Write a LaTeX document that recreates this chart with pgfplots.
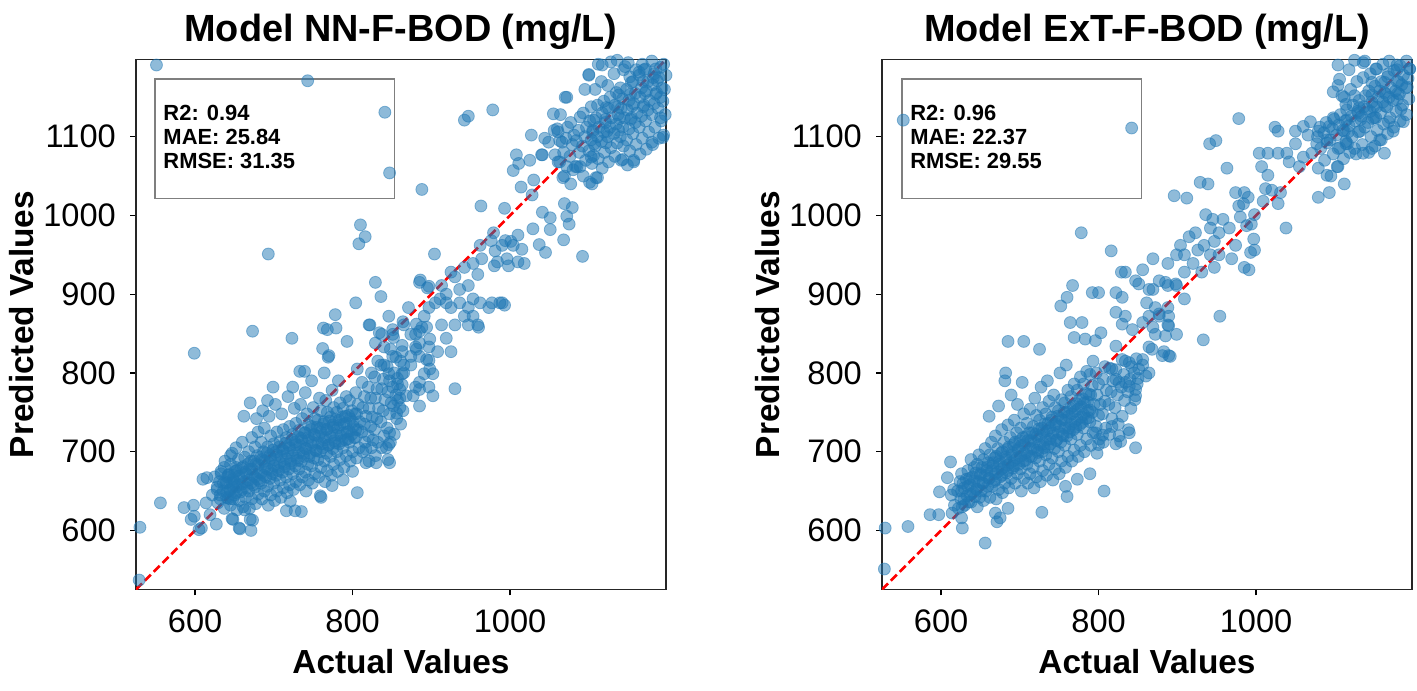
\documentclass[border=0pt]{standalone}
\usepackage{fontspec}
\setmainfont{Liberation Sans}
\usepackage{pgfplots}
\pgfplotsset{compat=1.18}
\definecolor{tabblue}{HTML}{1F77B4}
\pgfplotsset{
  base/.style={
    anchor=south west,
    width=530bp, height=530bp, scale only axis,
    xmin=525, xmax=1198, ymin=525, ymax=1198,
    xtick={600,800,1000}, ytick={600,700,800,900,1000,1100},
    tick pos=left, tick align=outside, major tick length=6bp,
    every tick/.style={black, line width=1.3bp},
    axis line style={black!85, line width=1.5bp},
    /pgf/number format/assume math mode=true,
    /pgf/number format/set thousands separator={},
    tick label style={font=\fontsize{32.7}{36}\selectfont},
    xticklabel style={anchor=north, inner sep=0pt, yshift=-14bp},
    yticklabel style={anchor=east, inner sep=0pt, xshift=-14bp},
    title style={at={(axis description cs:0.5,1.0219)}, anchor=base, inner sep=0pt, font=\bfseries\fontsize{38}{40}\selectfont},
    xlabel style={at={(axis description cs:0.5,-0.1594)}, anchor=base, inner sep=0pt, font=\bfseries\fontsize{33.5}{36}\selectfont},
    ylabel style={at={(axis description cs:-0.194,0.5)}, rotate=0, anchor=base, inner sep=0pt, font=\bfseries\fontsize{33.5}{36}\selectfont},
    xlabel={Actual Values}, ylabel={Predicted Values},
    clip=true,
  },
  pts/.style={only marks, mark=*, mark size=6bp, mark options={draw=tabblue, fill=tabblue, fill opacity=0.5, draw opacity=0.5, line width=0.8bp}},
  diag/.style={red, line width=2.6bp, dash pattern=on 8.5bp off 4bp},
}
\begin{document}
\begin{tikzpicture}
\useasboundingbox (0,0) rectangle (1417bp,691bp);
% ---------------- left: NN ----------------
\begin{axis}[base, at={(136bp,101.5bp)}, title={Model NN-F-BOD (mg/L)}]
\addplot[pts] coordinates {
(551,1191) (743,1171) (841,1131) (847,1054) (888,1033) (942,1121) (947,1126) (978,1134) (963,1012) (993,1009)
(810,988) (816,973) (808,964) (693,951) (904,951) (599,825) (673,853) (723,844) (733,802) (739,802)
(804,889) (829,915) (836,897) (886,918) (895,908) (930,780) (821,861) (778,874) (763,857) (779,857)
(793,840) (762,831) (770,822) (769,820) (768,855)
(530,604) (529,537) (556,635) (586,629) (598,632) (595,614) (599,618) (608,603) (605,601) (627,608)
(619,620) (610,665) (615,667) (614,635)
(647,615) (657,602) (671,600) (670,614) (663,626) (656,603) (673,613) (648,614)
(716,625) (727,625) (735,624) (721,637) (759,644) (760,642) (774,657) (788,664) (806,648) (800,675)
(817,686) (830,686) (847,686) (843,705) (846,709)
(622,645) (628,652) (632,640) (636,660) (640,648) (625,668) (633,675) (645,640) (648,655) (642,670) (650,662) (652,680) (638,688) (645,695)
(629,635) (632,645) (628,655) (631,662) (633,672)
(637,628) (640,642) (636,650) (639,660) (641,668) (637,680)
(645,632) (648,640) (644,652) (647,661) (649,670) (645,684) (647,698)
(653,626) (656,638) (652,648) (655,658) (657,666) (653,676) (655,690) (652,705)
(661,630) (664,642) (660,652) (663,662) (665,672) (661,681) (663,693) (660,712) (662,745)
(669,628) (672,640) (668,650) (671,660) (673,670) (669,678) (671,688) (668,700) (672,718) (670,762)
(677,634) (680,646) (676,655) (679,665) (681,674) (677,684) (679,695) (676,706) (680,725) (678,742)
(685,640) (688,650) (684,660) (687,670) (689,680) (685,690) (687,700) (684,712) (688,730) (686,752)
(693,632) (696,645) (692,656) (695,666) (697,676) (693,686) (695,695) (692,706) (696,720) (694,745) (692,765)
(701,638) (704,650) (700,660) (703,670) (705,680) (701,690) (703,700) (700,710) (704,725) (702,760) (699,782)
(709,642) (712,654) (708,664) (711,674) (713,684) (709,694) (711,703) (708,713) (712,728) (710,748)
(717,648) (720,658) (716,668) (719,678) (721,688) (717,698) (719,708) (716,718) (720,732) (718,770)
(725,652) (728,662) (724,672) (727,682) (729,692) (725,702) (727,712) (724,722) (728,736) (726,755) (724,782)
(733,658) (736,668) (732,678) (735,688) (737,698) (733,708) (735,717) (732,727) (736,742) (734,760)
(741,650) (744,664) (740,674) (743,684) (745,694) (741,704) (743,714) (740,724) (744,734) (742,748) (740,775)
(749,660) (752,672) (748,682) (751,692) (753,702) (749,712) (751,722) (748,732) (752,742) (750,756) (748,790)
(757,668) (760,680) (756,690) (759,700) (761,710) (757,720) (759,730) (756,740) (760,752) (758,768)
(765,662) (768,676) (764,688) (767,698) (769,708) (765,718) (767,728) (764,738) (768,750) (766,765) (764,800)
(773,670) (776,684) (772,694) (775,704) (777,714) (773,724) (775,734) (772,744) (776,756) (774,778)
(781,675) (784,690) (780,700) (783,710) (785,720) (781,730) (783,740) (780,750) (784,762) (782,790)
(789,680) (792,695) (788,705) (791,715) (793,725) (789,735) (791,745) (788,755) (792,770)
(797,688) (800,700) (796,712) (799,722) (801,732) (797,742) (799,752) (796,765)
(805,692) (808,705) (804,718) (807,728) (809,738) (805,748) (807,760) (804,775) (806,805)
(813,700) (816,712) (812,725) (815,735) (817,745) (813,756) (815,770) (812,788)
(821,688) (824,705) (820,720) (823,732) (825,744) (821,755) (823,768) (820,782) (824,800)
(829,695) (832,712) (828,728) (831,742) (833,755) (829,768) (831,780) (828,795) (832,815)
(837,705) (840,720) (836,738) (839,752) (841,766) (837,780) (839,792) (836,810)
(845,690) (848,712) (844,730) (847,748) (849,762) (845,776) (847,790) (844,808) (848,830)
(853,722) (856,742) (852,758) (855,772) (857,786) (853,800) (855,820) (852,845)
(861,735) (864,752) (860,768) (863,785) (865,800) (861,815) (863,835)
(642,641) (644,651) (640,661) (643,671)
(650,645) (652,655) (648,665) (651,675)
(658,649) (660,659) (656,669) (659,679)
(666,654) (668,664) (664,674) (667,684)
(674,658) (676,668) (672,678) (675,688)
(682,663) (684,673) (680,683) (683,693)
(690,668) (692,678) (688,688) (691,698)
(698,672) (700,682) (696,692) (699,702)
(706,676) (708,686) (704,696) (707,706)
(714,681) (716,691) (712,701) (715,711)
(722,685) (724,695) (720,705) (723,715)
(730,689) (732,699) (728,709) (731,719)
(738,694) (740,704) (736,714) (739,724)
(746,698) (748,708) (744,718) (747,728)
(754,701) (756,711) (752,721) (755,731)
(762,705) (764,715) (760,725) (763,735)
(770,709) (772,719) (768,729) (771,739)
(778,711) (780,721) (776,731) (779,741)
(786,714) (788,724) (784,734) (787,744)
(794,716) (796,726) (792,736) (795,746)
(802,718) (804,728) (800,738) (803,748)
(846,872) (851,849) (865,861) (880,849) (891,872) (897,883) (905,889) (911,894) (919,900) (925,883)
(936,889) (947,883) (942,872) (953,894) (962,889) (930,861) (919,844) (925,827) (908,827) (897,833)
(885,821) (874,810) (863,799) (880,782) (868,771) (857,765) (959,861) (947,911) (942,934) (953,939)
(959,925) (964,945) (962,962) (930,922) (913,911) (987,889) (973,883) (947,861) (960,858) (891,799)
(897,816) (902,799) (885,788) (897,782) (874,849) (871,883) (888,858) (913,861) (863,827) (851,821)
(840,833) (829,838) (837,849) (840,810) (846,799) (851,782) (860,779) (857,793) (865,810) (885,838)
(880,833) (874,821) (902,771) (953,872) (936,906) (925,928) (919,889)
(822,861) (834,851) (851,855) (864,865) (881,862) (894,858) (885,853) (898,843) (881,830) (894,817)
(898,805) (885,779) (877,771) (885,758) (860,756) (856,749) (847,724) (826,715) (817,703) (885,915) (897,910)
(1008,1077) (1011,1066) (1027,1102) (1044,1098) (1025,1070) (1040,1077) (1004,1057) (1014,1036) (1030,1045) (1028,1026)
(1041,1004) (1051,997) (1029,983) (1051,982) (1037,963) (1045,953) (1015,957) (1018,939) (1010,941) (996,945)
(998,936) (984,941) (981,955) (994,968) (1010,975) (1004,962) (990,962) (976,968) (980,936) (993,886)
(977,889) (990,889) (1068,969) (1075,989) (1072,999) (1079,1010) (1069,1015) (1092,948) (1055,1129) (1072,1150)
(1056,1108) (1061,1106) (1049,1093) (1066,1093) (1041,1077) (1057,1077) (1063,1068) (1067,1048) (1083,1062) (1089,1062)
(1103,1074) (1111,1048) (1104,1040) (979,978) (1001,967)
(1061,1068) (1063,1095) (1060,1110) (1064,1128)
(1069,1050) (1072,1062) (1068,1080) (1071,1098) (1073,1112) (1070,1150)
(1077,1040) (1080,1058) (1076,1075) (1079,1090) (1081,1102) (1077,1118)
(1085,1062) (1088,1080) (1084,1095) (1087,1108) (1089,1125)
(1093,1050) (1096,1070) (1092,1088) (1095,1100) (1097,1112) (1093,1130) (1095,1160)
(1101,1042) (1104,1066) (1100,1082) (1103,1096) (1105,1108) (1101,1120) (1103,1138) (1100,1178)
(1109,1048) (1112,1072) (1108,1088) (1111,1100) (1113,1112) (1109,1124) (1111,1140) (1108,1160) (1112,1192)
(1117,1060) (1120,1080) (1116,1094) (1119,1106) (1121,1118) (1117,1130) (1119,1145) (1116,1170)
(1125,1068) (1128,1086) (1124,1100) (1127,1112) (1129,1124) (1125,1136) (1127,1150) (1124,1165) (1128,1195)
(1133,1075) (1136,1092) (1132,1104) (1135,1116) (1137,1128) (1133,1140) (1135,1156) (1132,1180) (1136,1197)
(1141,1070) (1144,1088) (1140,1100) (1143,1112) (1145,1124) (1141,1136) (1143,1148) (1140,1162) (1144,1185)
(1149,1064) (1152,1082) (1148,1096) (1151,1110) (1153,1122) (1149,1134) (1151,1146) (1148,1160) (1152,1176) (1150,1194)
(1157,1070) (1160,1090) (1156,1104) (1159,1118) (1161,1130) (1157,1142) (1159,1155) (1156,1170) (1160,1185)
(1165,1078) (1168,1098) (1164,1112) (1167,1126) (1169,1138) (1165,1150) (1167,1162) (1164,1178) (1168,1192)
(1173,1084) (1176,1106) (1172,1120) (1175,1134) (1177,1146) (1173,1158) (1175,1170) (1172,1186)
(1181,1090) (1184,1112) (1180,1128) (1183,1142) (1185,1154) (1181,1166) (1183,1180) (1180,1196)
(1189,1098) (1192,1120) (1188,1136) (1191,1150) (1193,1162) (1189,1175) (1191,1188)
(1195,1102) (1197,1128) (1194,1145) (1196,1160) (1198,1178) (1195,1192)
(1100,1179) (1117,1191) (1146,1189) (1164,1182) (1182,1175) (1194,1099) (1191,1124) (1157,1068) (1143,1071) (1180,1093)
(1106,1076) (1107,1091) (1105,1106) (1106,1121)
(1122,1092) (1123,1107) (1121,1122) (1122,1137)
(1138,1108) (1139,1123) (1137,1138) (1138,1153)
(1154,1124) (1155,1139) (1153,1154) (1154,1169)
(1170,1140) (1171,1155) (1169,1170) (1170,1185)
(1186,1156) (1187,1171) (1185,1186)
};
\addplot[diag] coordinates {(525,525) (1198,1198)};
\draw[black, draw opacity=0.5, fill=white, fill opacity=0.5, line width=1.5bp] (axis description cs:0.0358,0.7377) rectangle (axis description cs:0.4874,0.9636);
\node[anchor=base west, inner sep=0pt, font=\bfseries\fontsize{22}{24}\selectfont] at (axis description cs:0.0515,0.8845) {R2: 0.94};
\node[anchor=base west, inner sep=0pt, font=\bfseries\fontsize{22}{24}\selectfont] at (axis description cs:0.0515,0.8392) {MAE: 25.84};
\node[anchor=base west, inner sep=0pt, font=\bfseries\fontsize{22}{24}\selectfont] at (axis description cs:0.0515,0.7934) {RMSE: 31.35};
\end{axis}
% ---------------- right: ExT ----------------
\begin{axis}[base, at={(882bp,101.5bp)}, title={Model ExT-F-BOD (mg/L)}]
\addplot[pts] coordinates {
(552,1121) (842,1111) (978,1123) (941,1091) (949,1095) (963,1060) (929,1042) (939,1040) (896,1025) (912,1022)
(778,978) (816,955) (954,872) (933,842) (685,840) (705,840) (725,830) (682,800)
(529,603) (528,551) (558,605) (656,584) (728,623) (807,650) (758,656) (760,643) (773,665) (789,672)
(847,705) (839,724) (828,713) (805,721) (800,709)
(612,687) (608,667) (598,649) (586,620) (597,620) (627,603) (626,616) (671,611) (675,616) (685,628) (669,622)
(767,911) (760,896) (752,885) (792,902) (800,902) (822,902) (830,896) (851,913) (864,906) (885,915) (898,913)
(764,864) (779,864) (769,845) (783,843) (803,851) (796,841)
(822,877) (830,862) (834,872) (843,855) (856,864) (864,872) (877,875) (889,872) (889,860) (885,847)
(822,834) (830,817) (839,813) (856,817) (851,805) (868,830) (881,822) (889,822) (864,800) (860,796)
(847,779) (839,783) (822,792) (817,805)
(796,724) (817,732) (826,720)
(829,928) (834,928) (847,917) (856,931) (869,945) (869,906) (877,917) (888,939) (899,950) (899,911)
(909,928) (904,962) (915,973) (923,978) (926,956) (934,962) (942,950) (947,967) (953,978) (958,995)
(945,995) (936,1001) (966,984) (980,998) (988,987) (998,1001) (1009,1018) (1012,1034) (1020,1032) (1015,1051)
(1007,1062) (1004,1079) (1015,1079) (1028,1079) (1039,1079) (1050,1091) (1042,1068) (1055,1062) (1060,1074) (1071,1079)
(1077,1091) (1066,1102) (1050,1107) (1060,1113) (1069,1119) (1079,1107) (1090,1096) (1093,1113) (1098,1124) (1112,1107)
(1104,1085) (1114,1091) (1125,1085) (1136,1079) (1147,1085) (1157,1096) (1163,1079) (1174,1107) (1184,1135) (1192,1163)
(1195,1186) (1168,1180) (1152,1186) (1136,1194) (1147,1169) (1157,1158) (1125,1152) (1114,1141) (1130,1130) (1141,1135)
(1152,1124) (1168,1119) (1179,1147) (1187,1119) (1179,1191)
(974,962) (969,945) (993,953) (985,1029) (990,1023) (974,1029) (942,984) (920,939) (931,928) (909,894)
(888,883) (877,872) (888,861) (899,849) (883,827) (891,821) (864,833) (856,810) (872,849) (850,793)
(834,788) (847,771) (869,858) (872,883) (861,889) (888,911) (909,950) (947,934) (953,950) (985,934)
(1024,1112) (1028,1107) (1038,984) (991,931) (998,956) (997,970) (994,989) (978,1012) (984,1015) (1028,1015)
(1031,1029) (1079,1023) (1093,1029) (1112,1040) (1104,1062) (1090,1051) (1104,1191) (1125,1197) (1106,1173) (1098,1157) (1109,1152)
(614,622) (617,632) (613,645) (616,652)
(622,628) (625,640) (621,650) (624,662) (626,672)
(630,632) (633,644) (629,654) (632,665) (634,676)
(638,636) (641,648) (637,658) (640,668) (642,680) (638,690)
(646,630) (649,642) (645,652) (648,662) (650,672) (646,684) (648,696)
(654,638) (657,650) (653,660) (656,670) (658,680) (654,690) (656,704)
(662,642) (665,656) (661,666) (664,676) (666,686) (662,696) (664,712) (661,745)
(670,640) (673,652) (669,664) (672,674) (674,684) (670,694) (672,704) (669,720) (673,758)
(678,648) (681,660) (677,670) (680,680) (682,690) (678,700) (680,712) (677,728) (681,790)
(686,654) (689,666) (685,676) (688,686) (690,696) (686,706) (688,718) (685,734) (689,772)
(694,660) (697,672) (693,682) (696,692) (698,702) (694,712) (696,724) (693,740) (697,760)
(702,650) (705,666) (701,678) (704,688) (706,698) (702,708) (704,718) (701,730) (705,748) (703,788)
(710,660) (713,672) (709,684) (712,694) (714,704) (710,714) (712,724) (709,736) (713,754)
(718,654) (721,668) (717,680) (720,692) (722,702) (718,712) (720,722) (717,732) (721,746) (719,768)
(726,662) (729,676) (725,688) (728,700) (730,710) (726,720) (728,730) (725,740) (729,756) (727,782)
(734,670) (737,684) (733,696) (736,706) (738,716) (734,726) (736,736) (733,748) (737,764) (735,790)
(742,664) (745,678) (741,692) (744,704) (746,714) (742,724) (744,734) (741,744) (745,756) (743,772)
(750,672) (753,688) (749,700) (752,712) (754,722) (750,732) (752,742) (749,752) (753,766) (751,800)
(758,680) (761,694) (757,708) (760,720) (762,730) (758,740) (760,750) (757,762) (761,778) (759,810)
(766,688) (769,702) (765,716) (768,728) (770,738) (766,748) (768,758) (765,770) (769,786)
(774,694) (777,708) (773,722) (776,734) (778,744) (774,754) (776,766) (773,778) (777,795)
(782,700) (785,716) (781,730) (784,742) (786,752) (782,762) (784,774) (781,786) (785,802)
(790,708) (793,724) (789,738) (792,750) (794,760) (790,772) (792,784) (789,798) (793,815)
(798,698) (801,716) (797,732) (800,746) (802,760) (798,772) (800,786) (797,800)
(806,712) (809,730) (805,748) (808,764) (810,778) (806,792) (808,808)
(814,722) (817,742) (813,760) (816,776) (818,790) (814,806)
(822,710) (825,735) (821,756) (824,772) (826,788) (822,804)
(830,745) (833,765) (829,782) (832,798) (834,815)
(838,728) (841,755) (837,776) (840,792) (842,808)
(846,766) (849,786) (845,800) (848,818)
(627,630) (629,640) (626,650) (628,660)
(635,636) (637,646) (634,656) (636,666)
(643,643) (645,653) (642,663) (644,673)
(651,650) (653,660) (650,670) (652,680)
(659,656) (661,666) (658,676) (660,686)
(667,662) (669,672) (666,682) (668,692)
(675,668) (677,678) (674,688) (676,698)
(683,673) (685,683) (682,693) (684,703)
(691,679) (693,689) (690,699) (692,709)
(699,684) (701,694) (698,704) (700,714)
(707,689) (709,699) (706,709) (708,719)
(715,694) (717,704) (714,714) (716,724)
(723,699) (725,709) (722,719) (724,729)
(731,705) (733,715) (730,725) (732,735)
(739,710) (741,720) (738,730) (740,740)
(747,715) (749,725) (746,735) (748,745)
(755,720) (757,730) (754,740) (756,750)
(763,725) (765,735) (762,745) (764,755)
(771,731) (773,741) (770,751) (772,761)
(779,737) (781,747) (778,757) (780,767)
(787,743) (789,753) (786,763) (788,773)
(1079,1060) (1082,1085) (1078,1100) (1081,1112)
(1087,1070) (1090,1092) (1086,1105) (1089,1118)
(1095,1050) (1098,1078) (1094,1096) (1097,1110) (1099,1122)
(1103,1062) (1106,1086) (1102,1102) (1105,1115) (1107,1128) (1104,1165)
(1111,1072) (1114,1094) (1110,1108) (1113,1120) (1115,1134) (1112,1150)
(1119,1080) (1122,1100) (1118,1114) (1121,1126) (1123,1140) (1120,1160) (1118,1185)
(1127,1078) (1130,1106) (1126,1120) (1129,1132) (1131,1146) (1128,1170)
(1135,1090) (1138,1112) (1134,1126) (1137,1138) (1139,1152) (1136,1175) (1138,1196)
(1143,1080) (1146,1100) (1142,1118) (1145,1132) (1147,1144) (1143,1158) (1145,1180)
(1151,1088) (1154,1108) (1150,1124) (1153,1138) (1155,1150) (1151,1164) (1153,1186)
(1159,1096) (1162,1116) (1158,1130) (1161,1144) (1163,1156) (1159,1170) (1161,1192)
(1167,1104) (1170,1124) (1166,1138) (1169,1150) (1171,1162) (1167,1176) (1169,1196)
(1175,1112) (1178,1132) (1174,1146) (1177,1158) (1179,1170) (1175,1184)
(1183,1120) (1186,1140) (1182,1154) (1185,1166) (1187,1178) (1183,1190)
(1191,1128) (1194,1148) (1190,1162) (1193,1174) (1195,1186) (1191,1196)
(1116,1091) (1117,1106) (1115,1121)
(1132,1107) (1133,1122) (1131,1137)
(1148,1123) (1149,1138) (1147,1153)
(1164,1139) (1165,1154) (1163,1169)
(1180,1155) (1181,1170) (1179,1185)
};
\addplot[diag] coordinates {(525,525) (1198,1198)};
\draw[black, draw opacity=0.5, fill=white, fill opacity=0.5, line width=1.5bp] (axis description cs:0.0374,0.7377) rectangle (axis description cs:0.4900,0.9636);
\node[anchor=base west, inner sep=0pt, font=\bfseries\fontsize{22}{24}\selectfont] at (axis description cs:0.0530,0.8845) {R2: 0.96};
\node[anchor=base west, inner sep=0pt, font=\bfseries\fontsize{22}{24}\selectfont] at (axis description cs:0.0530,0.8392) {MAE: 22.37};
\node[anchor=base west, inner sep=0pt, font=\bfseries\fontsize{22}{24}\selectfont] at (axis description cs:0.0530,0.7934) {RMSE: 29.55};
\end{axis}
\end{tikzpicture}
\end{document}
